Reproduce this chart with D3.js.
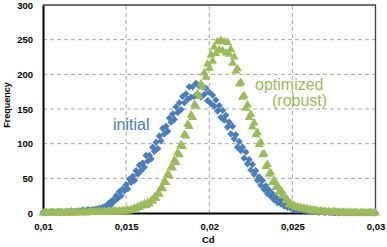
<!DOCTYPE html>
<html>
<head>
<meta charset="utf-8">
<script src="https://cdn.jsdelivr.net/npm/d3@7"></script>
<style>
  body { margin: 0; background: #ffffff; }
  text { font-family: "Liberation Sans", Arial, sans-serif; }
</style>
</head>
<body>
<div id="chart"></div>
<script>
// Cd grid: 0.0100 .. 0.0300, step 0.0001
const cdStart = 0.010;
const cdStep = 0.0001;

// initial design (blue diamonds), one value per grid step
const initialFreq = [
  1,0,1,1,0,2,1,1,1,2,
  1,2,1,1,2,2,1,3,2,2,
  2,3,2,3,4,3,3,5,4,4,
  5,4,6,5,7,6,8,9,10,12,
  15,12,19,17,25,21,31,25,35,32,
  41,35,49,44,53,47,61,56,69,61,
  72,66,83,75,83,78,95,89,102,93,
  111,104,122,114,125,118,137,131,143,135,
  153,145,159,149,168,159,172,164,182,167,
  182,168,187,172,183,167,182,171,180,162,
  174,158,170,154,163,147,155,138,148,134,
  141,124,131,114,125,107,113,95,103,90,
  95,79,88,71,77,62,70,56,61,47,
  52,40,47,34,39,28,33,24,28,19,
  23,15,19,13,17,10,13,8,11,7,
  9,5,7,4,6,4,5,3,4,3,
  3,2,3,2,2,3,1,2,2,1,
  1,2,1,1,1,0,1,1,0,1,
  1,0,1,0,1,0,0,1,0,0,
  0,1,0,0,0,0,1,0,0,0,
  0
];

// optimized (robust) design (green triangles)
const optimizedFreq = [
  0,0,1,0,0,0,1,0,0,0,
  0,1,0,0,1,0,0,1,0,1,
  0,1,1,0,1,1,0,1,1,2,
  1,1,2,1,2,1,2,2,1,2,
  2,1,2,3,2,2,3,2,3,3,
  3,4,3,5,4,7,6,9,8,11,
  10,13,11,15,13,18,17,23,21,28,
  27,36,35,46,44,56,54,66,65,76,
  73,87,84,98,96,113,111,128,125,141,
  138,156,154,172,168,186,182,202,196,215,
  209,228,219,239,230,247,235,249,234,247,
  231,246,229,236,216,225,205,208,186,188,
  167,169,151,156,138,142,124,130,113,116,
  99,102,84,85,67,70,56,58,44,47,
  37,40,30,33,25,26,18,19,12,14,
  10,11,8,9,7,8,6,7,5,6,
  4,5,3,4,3,3,2,3,2,2,
  2,1,2,1,1,2,1,1,1,0,
  1,1,0,1,0,1,0,0,1,0,
  0,0,1,0,0,0,0,1,0,0,
  0
];

const xTicks = [0.01, 0.015, 0.02, 0.025, 0.03];
const xTickLabels = [`0,01`, `0,015`, `0,02`, `0,025`, `0,03`];
const yTicks = [0, 50, 100, 150, 200, 250, 300];

// Constant
const width = 387;
const height = 247;
const margin = {top: 5, right: 11.5, bottom: 34, left: 43};
const blue = `#4a7ebb`;
const green = `#9bbb59`;
const gridColor = `#a6a6a6`;
const tickFont = `bold 9.5px "Liberation Sans", Arial, sans-serif`;

const xScale = d3.scaleLinear()
                .domain([0.01, 0.03])
                .range([margin.left, width - margin.right]);
const yScale = d3.scaleLinear()
                .domain([0, 300])
                .range([height - margin.bottom, margin.top]);

const svg = d3.select(`#chart`)
            .append(`svg`)
                .attr(`width`, width)
                .attr(`height`, height);

svg.append(`rect`)
    .attr(`width`, width)
    .attr(`height`, height)
    .attr(`fill`, `#ffffff`);

// gridlines
svg.append(`g`)
    .selectAll(`line`)
    .data(yTicks.filter(d => d > 0 && d < 300))
    .join(`line`)
        .attr(`x1`, xScale(0.01))
        .attr(`x2`, xScale(0.03))
        .attr(`y1`, d => yScale(d))
        .attr(`y2`, d => yScale(d))
        .attr(`stroke`, gridColor)
        .attr(`stroke-width`, 1)
        .attr(`stroke-dasharray`, `4,3`);

svg.append(`g`)
    .selectAll(`line`)
    .data(xTicks.slice(1, -1))
    .join(`line`)
        .attr(`x1`, d => xScale(d))
        .attr(`x2`, d => xScale(d))
        .attr(`y1`, yScale(0))
        .attr(`y2`, yScale(300))
        .attr(`stroke`, gridColor)
        .attr(`stroke-width`, 1)
        .attr(`stroke-dasharray`, `4,3`);

// top and right border
svg.append(`path`)
    .attr(`d`, `M${xScale(0.01)},${yScale(300)}H${xScale(0.03)}V${yScale(0)}`)
    .attr(`fill`, `none`)
    .attr(`stroke`, `#404040`)
    .attr(`stroke-width`, 1.3);

// axes
const xAxis = svg.append(`g`)
    .attr(`transform`, `translate(0, ${yScale(0)})`)
    .call(d3.axisBottom(xScale)
        .tickValues(xTicks)
        .tickSize(0)
        .tickPadding(10)
        .tickFormat((d, i) => xTickLabels[i]));
xAxis.select(`.domain`).attr(`stroke`, `#000`).attr(`stroke-width`, 2);
xAxis.selectAll(`text`).style(`font`, tickFont).attr(`fill`, `#000`);

const yAxis = svg.append(`g`)
    .attr(`transform`, `translate(${xScale(0.01)}, 0)`)
    .call(d3.axisLeft(yScale)
        .tickValues(yTicks)
        .tickSize(0)
        .tickPadding(10));
yAxis.select(`.domain`).attr(`stroke`, `#000`).attr(`stroke-width`, 2);
yAxis.selectAll(`text`).style(`font`, tickFont).attr(`fill`, `#000`);

// axis titles
svg.append(`text`)
    .attr(`x`, xScale(0.02) - 1)
    .attr(`y`, 243)
    .attr(`text-anchor`, `middle`)
    .style(`font`, tickFont)
    .text(`Cd`);

svg.append(`text`)
    .attr(`transform`, `translate(9.5, 105) rotate(-90)`)
    .attr(`text-anchor`, `middle`)
    .style(`font`, `bold 9px "Liberation Sans", Arial, sans-serif`)
    .text(`Frequency`);

// series
const cdAt = i => cdStart + i * cdStep;
const diamond = d3.symbol().type(d3.symbolSquare).size(26)();
const triangle = d3.symbol().type(d3.symbolTriangle).size(34)();

const plot = svg.append(`g`);

plot.append(`g`)
    .selectAll(`path`)
    .data(initialFreq)
    .join(`path`)
        .attr(`d`, diamond)
        .attr(`transform`, (d, i) => `translate(${xScale(cdAt(i))},${yScale(d)}) rotate(45)`)
        .attr(`fill`, blue);

plot.append(`g`)
    .selectAll(`path`)
    .data(optimizedFreq)
    .join(`path`)
        .attr(`d`, triangle)
        .attr(`transform`, (d, i) => `translate(${xScale(cdAt(i))},${yScale(d)})`)
        .attr(`fill`, green);

// series labels
svg.append(`text`)
    .attr(`x`, 113)
    .attr(`y`, 130)
    .style(`font-size`, `16px`)
    .attr(`fill`, blue)
    .text(`initial`);

svg.append(`text`)
    .attr(`x`, 255)
    .attr(`y`, 90)
    .style(`font-size`, `16px`)
    .attr(`fill`, green)
    .text(`optimized`);

svg.append(`text`)
    .attr(`x`, 272)
    .attr(`y`, 106)
    .style(`font-size`, `16px`)
    .attr(`fill`, green)
    .text(`(robust)`);
</script>
</body>
</html>
